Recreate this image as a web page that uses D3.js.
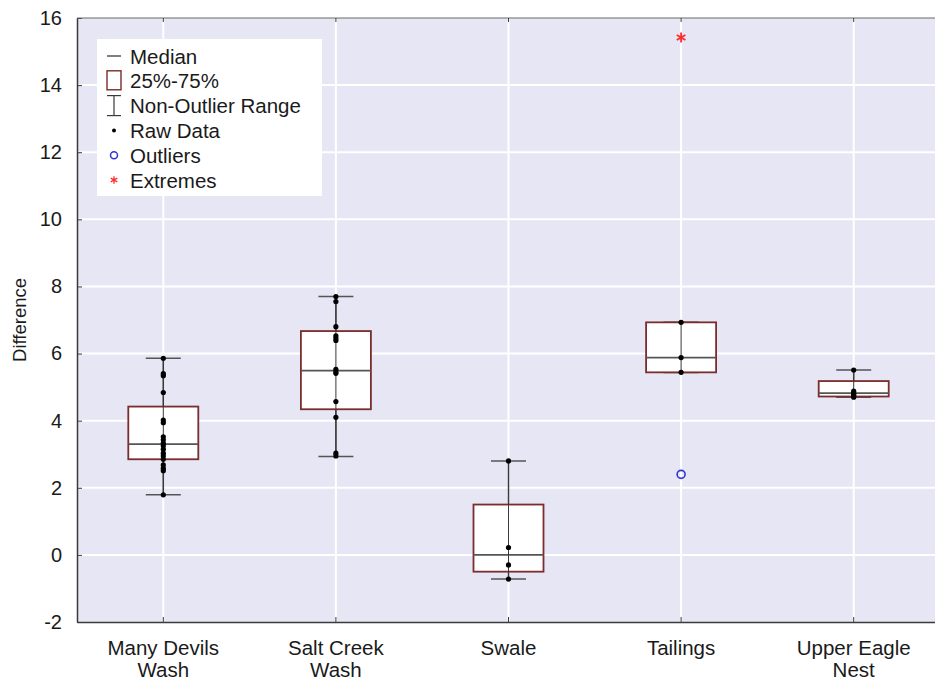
<!DOCTYPE html>
<html>
<head>
<meta charset="utf-8">
<script src="https://cdn.jsdelivr.net/npm/d3@7"></script>
<style>
  html, body { margin: 0; padding: 0; background: #ffffff; }
  svg { display: block; font-family: "Liberation Sans", Arial, sans-serif; }
</style>
</head>
<body>
<svg id="chart" width="935" height="684"></svg>
<script>
// Sites and their box-plot summaries
const categories = ["Many Devils Wash", "Salt Creek Wash", "Swale", "Tailings", "Upper Eagle Nest"];
const categoryLines = [["Many Devils", "Wash"], ["Salt Creek", "Wash"], ["Swale"], ["Tailings"], ["Upper Eagle", "Nest"]];
const medians = [3.30, 5.49, 0.00, 5.88, 4.82];
const q1s = [2.85, 4.34, -0.50, 5.44, 4.72];
const q3s = [4.42, 6.67, 1.50, 6.93, 5.18];
const whiskerLow = [1.79, 2.93, -0.72, 5.44, 4.70];
const whiskerHigh = [5.86, 7.70, 2.80, 6.93, 5.51];

// Raw observations per site
const rawData = [
  [5.86, 5.40, 5.34, 4.84, 4.02, 3.94, 3.52, 3.43, 3.33, 3.25, 3.15, 3.03, 2.95, 2.85, 2.68, 2.58, 2.51, 1.79],
  [7.70, 7.55, 6.80, 6.53, 6.46, 6.39, 5.53, 5.46, 5.41, 4.57, 4.10, 3.03, 2.95],
  [2.80, 0.22, -0.30, -0.72],
  [6.93, 5.88, 5.44],
  [5.51, 4.88, 4.82, 4.78, 4.74, 4.70]
];
// Outliers and extremes: [category index, value]
const outliers = [[3, 2.40]];
const extremes = [[3, 15.42]];

const yTicks = [-2, 0, 2, 4, 6, 8, 10, 12, 14, 16];
const legendItems = ["Median", "25%-75%", "Non-Outlier Range", "Raw Data", "Outliers", "Extremes"];

const svg = d3.select("#chart");
const plotL = 77, plotR = 940, plotT = 18, plotB = 622;

const x = d3.scaleBand().domain(categories).range([plotL, plotR]).padding(0);
const y = d3.scaleLinear().domain([-2, 16]).range([plotB, plotT]);
const cx = i => x(categories[i]) + x.bandwidth() / 2;

const boxW = 70, capW = 35;
const boxStroke = "#7b2c2c";
const lineCol = "#3a3a3a";
const textCol = "#1a1a1a";

// Plot background
svg.append("rect")
  .attr("x", plotL).attr("y", plotT)
  .attr("width", plotR - plotL).attr("height", plotB - plotT)
  .attr("fill", "#e6e6f5");

// Grid
svg.append("g").selectAll("line").data(yTicks.slice(1, -1)).join("line")
  .attr("x1", plotL).attr("x2", plotR)
  .attr("y1", d => y(d)).attr("y2", d => y(d))
  .attr("stroke", "#ffffff").attr("stroke-width", 2);
svg.append("g").selectAll("line").data(categories).join("line")
  .attr("x1", (d, i) => cx(i)).attr("x2", (d, i) => cx(i))
  .attr("y1", plotT).attr("y2", plotB)
  .attr("stroke", "#ffffff").attr("stroke-width", 2);

// Axes
const yAxis = d3.axisLeft(y).tickValues(yTicks).tickFormat(d => String(d))
  .tickSizeInner(-5).tickSizeOuter(0).tickPadding(15);
const gy = svg.append("g").attr("transform", `translate(${plotL},0)`).call(yAxis);
gy.select(".domain").attr("stroke", lineCol).attr("stroke-width", 1.5);
gy.selectAll(".tick line").attr("stroke", lineCol);
gy.selectAll(".tick text").attr("font-size", 20).attr("fill", textCol)
  .attr("font-family", "'Liberation Sans', Arial, sans-serif");

const xAxis = d3.axisBottom(x).tickSizeInner(-5).tickSizeOuter(0).tickFormat("");
const gx = svg.append("g").attr("transform", `translate(0,${plotB})`).call(xAxis);
gx.select(".domain").attr("stroke", lineCol).attr("stroke-width", 1.5);
gx.selectAll(".tick line").attr("stroke", lineCol);

// Top frame line with ticks
svg.append("line").attr("x1", plotL).attr("x2", plotR).attr("y1", plotT).attr("y2", plotT)
  .attr("stroke", "#6a6a6a").attr("stroke-width", 1);
svg.append("g").selectAll("line").data(categories).join("line")
  .attr("x1", (d, i) => cx(i)).attr("x2", (d, i) => cx(i))
  .attr("y1", plotT).attr("y2", plotT + 4)
  .attr("stroke", lineCol);

// Category labels (two lines)
const lab = svg.append("g").selectAll("text").data(categoryLines).join("text")
  .attr("x", (d, i) => cx(i)).attr("y", 655)
  .attr("text-anchor", "middle").attr("font-size", 20.5).attr("fill", textCol);
lab.selectAll("tspan").data(d => d).join("tspan")
  .attr("x", function () { return d3.select(this.parentNode).attr("x"); })
  .attr("dy", (d, j) => j === 0 ? 0 : 22)
  .text(d => d);

// Y axis title
svg.append("text")
  .attr("transform", `translate(26,${(plotT + plotB) / 2}) rotate(-90)`)
  .attr("text-anchor", "middle").attr("font-size", 18.5).attr("fill", textCol)
  .text("Difference");

// Boxes
const g = svg.append("g");
categories.forEach((c, i) => {
  const xc = cx(i);
  // whisker stem
  g.append("line").attr("x1", xc).attr("x2", xc)
    .attr("y1", y(whiskerHigh[i])).attr("y2", y(whiskerLow[i]))
    .attr("stroke", lineCol).attr("stroke-width", 1.5);
  // caps
  [whiskerHigh[i], whiskerLow[i]].forEach(v => {
    g.append("line").attr("x1", xc - capW / 2).attr("x2", xc + capW / 2)
      .attr("y1", y(v)).attr("y2", y(v))
      .attr("stroke", "#555").attr("stroke-width", 1.6);
  });
  // box
  g.append("rect")
    .attr("x", xc - boxW / 2).attr("y", y(q3s[i]))
    .attr("width", boxW).attr("height", y(q1s[i]) - y(q3s[i]))
    .attr("fill", "#ffffff").attr("stroke", boxStroke).attr("stroke-width", 1.8);
  // median
  g.append("line").attr("x1", xc - boxW / 2).attr("x2", xc + boxW / 2)
    .attr("y1", y(medians[i])).attr("y2", y(medians[i]))
    .attr("stroke", "#555").attr("stroke-width", 1.6);
  // stem through box (raw data column)
  g.append("line").attr("x1", xc).attr("x2", xc)
    .attr("y1", y(whiskerHigh[i])).attr("y2", y(whiskerLow[i]))
    .attr("stroke", lineCol).attr("stroke-width", 1);
  // raw points
  g.selectAll(null).data(rawData[i]).join("circle")
    .attr("cx", xc).attr("cy", d => y(d)).attr("r", 2.6)
    .attr("fill", "#000");
});

// Outliers
svg.append("g").selectAll("circle").data(outliers).join("circle")
  .attr("cx", d => cx(d[0])).attr("cy", d => y(d[1])).attr("r", 4)
  .attr("fill", "none").attr("stroke", "#3434d0").attr("stroke-width", 1.6);

// Extremes
const ast = d3.symbol().type(d3.symbolAsterisk).size(70);
svg.append("g").selectAll("path").data(extremes).join("path")
  .attr("transform", d => `translate(${cx(d[0])},${y(d[1])})`)
  .attr("d", ast).attr("stroke", "#ff2a2a").attr("stroke-width", 1.8).attr("fill", "none");

// Legend
const lg = svg.append("g");
lg.append("rect").attr("x", 97).attr("y", 39).attr("width", 225).attr("height", 157)
  .attr("fill", "#ffffff");
const ly = i => 56 + i * 24.8;
const sx = 114;
lg.selectAll("text").data(legendItems).join("text")
  .attr("x", 130).attr("y", (d, i) => ly(i) + 7.5)
  .attr("font-size", 20.5).attr("fill", textCol)
  .text(d => d);
// median symbol
lg.append("line").attr("x1", sx - 7).attr("x2", sx + 7).attr("y1", ly(0)).attr("y2", ly(0))
  .attr("stroke", lineCol).attr("stroke-width", 1.3);
// box symbol
lg.append("rect").attr("x", sx - 7).attr("y", ly(1) - 10).attr("width", 14).attr("height", 19)
  .attr("fill", "#fff").attr("stroke", boxStroke).attr("stroke-width", 1.4);
// whisker symbol
lg.append("line").attr("x1", sx).attr("x2", sx).attr("y1", ly(2) - 10).attr("y2", ly(2) + 10)
  .attr("stroke", lineCol).attr("stroke-width", 1.2);
[ly(2) - 10, ly(2) + 10].forEach(v => {
  lg.append("line").attr("x1", sx - 7).attr("x2", sx + 7).attr("y1", v).attr("y2", v)
    .attr("stroke", lineCol).attr("stroke-width", 1.2);
});
// raw point
lg.append("circle").attr("cx", sx).attr("cy", ly(3)).attr("r", 2).attr("fill", "#000");
// outlier
lg.append("circle").attr("cx", sx).attr("cy", ly(4)).attr("r", 3.5)
  .attr("fill", "none").attr("stroke", "#3434d0").attr("stroke-width", 1.5);
// extreme
lg.append("path").attr("transform", `translate(${sx},${ly(5)})`)
  .attr("d", d3.symbol().type(d3.symbolAsterisk).size(40))
  .attr("stroke", "#ff2a2a").attr("stroke-width", 1.3).attr("fill", "none");
</script>
</body>
</html>
